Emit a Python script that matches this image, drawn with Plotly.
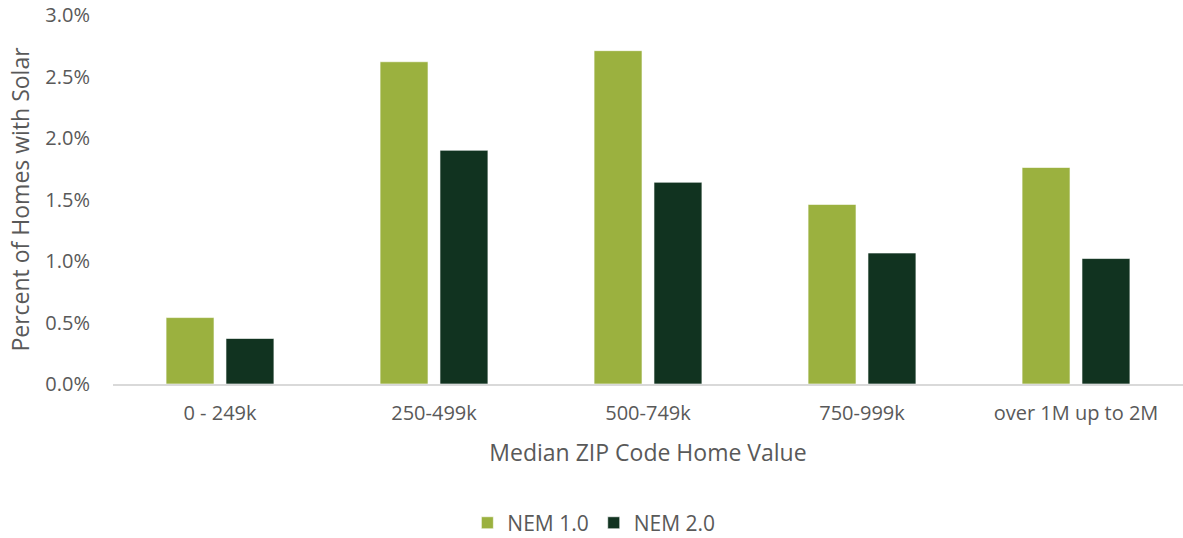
import plotly.graph_objects as go

# Share of homes with rooftop solar by median ZIP code home value
categories = ["0 - 249k", "250-499k", "500-749k", "750-999k", "over 1M up to 2M"]
nem1 = [0.54, 2.62, 2.71, 1.46, 1.76]  # percent
nem2 = [0.37, 1.90, 1.64, 1.065, 1.02]  # percent

tick_vals = [0, 0.5, 1.0, 1.5, 2.0, 2.5, 3.0]
tick_text = [f"{v:.1f}%" for v in tick_vals]

GREEN = "#9BB13F"
DARK = "#113320"
TEXT = "#595959"
FONT = "Open Sans"

fig = go.Figure()
fig.add_trace(go.Bar(
    name="NEM 1.0", x=categories, y=nem1,
    marker=dict(color=GREEN, line=dict(color="rgba(255,255,255,0.6)", width=1)),
))
fig.add_trace(go.Bar(
    name="NEM 2.0", x=categories, y=nem2,
    marker=dict(color=DARK, line=dict(color="rgba(255,255,255,0.6)", width=1)),
))

fig.update_layout(
    width=1183, height=538,
    margin=dict(l=113, r=0, t=15, b=154, autoexpand=False),
    paper_bgcolor="white", plot_bgcolor="white",
    barmode="group", bargap=0.44, bargroupgap=0.2,
    font=dict(family=FONT, color=TEXT, size=20),
    showlegend=True,
    legend=dict(
        orientation="h", xref="container", x=0.502, xanchor="center",
        y=-0.377, yanchor="middle",
        yref="paper",
        font=dict(size=21, color=TEXT),
        itemwidth=30,
        traceorder="normal",
    ),
    xaxis=dict(
        showgrid=False, zeroline=False,
        showline=True, linecolor="#D9D9D9", linewidth=2,
        ticks="", ticklabelstandoff=10,
        tickfont=dict(size=20, color=TEXT),
        title=dict(text="Median ZIP Code Home Value", font=dict(size=23, color=TEXT), standoff=20),
    ),
    yaxis=dict(
        range=[0, 3.0], showgrid=False, zeroline=False, showline=False,
        tickmode="array", tickvals=tick_vals, ticktext=tick_text,
        ticks="", ticklabelstandoff=22,
        tickfont=dict(size=20, color=TEXT),
        title=dict(text="Percent of Homes with Solar", font=dict(size=23, color=TEXT), standoff=9),
    ),
)

fig.write_html("out.html")
